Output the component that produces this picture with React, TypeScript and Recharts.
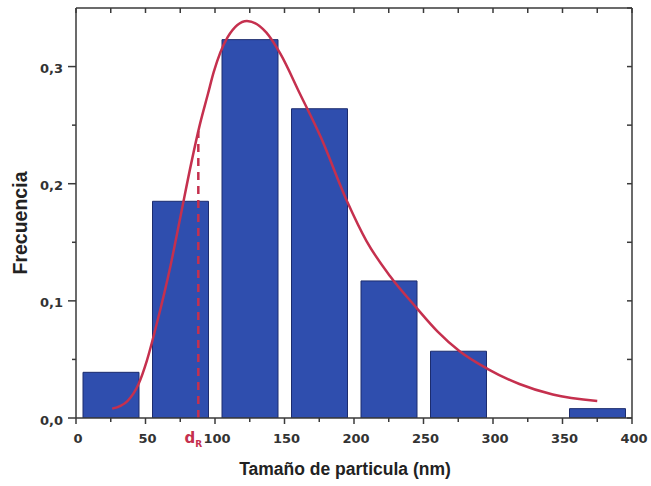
import React from "react";
import {
  ComposedChart,
  Bar,
  Line,
  XAxis,
  YAxis,
  ReferenceLine,
  Label,
} from "recharts";

// histogram bins (nm) and their frequency
const binCenters = [25, 75, 125, 175, 225, 275, 375];
const binFreq = [0.039, 0.185, 0.323, 0.264, 0.117, 0.057, 0.008];

// fitted distribution curve
const fitSize = [26, 37, 45, 51, 58, 68, 75, 83, 89, 95, 99, 109, 123, 137, 147, 161, 176, 195, 209, 226, 245, 260, 276, 296, 319, 343, 375];
const fitFreq = [0.008, 0.0145, 0.029, 0.049, 0.08, 0.13, 0.171, 0.218, 0.25, 0.277, 0.295, 0.325, 0.339, 0.329, 0.311, 0.277, 0.24, 0.185, 0.151, 0.121, 0.094, 0.074, 0.057, 0.042, 0.029, 0.02, 0.0145];

// d_R marker
const dR = 88;
const dRTop = 0.245;

const xTicks = [0, 25, 50, 75, 100, 125, 150, 175, 200, 225, 250, 275, 300, 325, 350, 375, 400];
const yTicks = [0, 0.05, 0.1, 0.15, 0.2, 0.25, 0.3, 0.35];

const bars = binCenters.map((x, i) => ({ size: x, freq: binFreq[i] }));
const fit = fitSize.map((x, i) => ({ size: x, fit: fitFreq[i] }));

const AXIS = "#3a3a3a";
const RED = "#c5304e";
const FONT = "'Liberation Sans', Arial, sans-serif";
const TICK_FONT = "'DejaVu Sans', sans-serif";

function LeftTick(props: any) {
  const { x, y, payload } = props;
  const v = payload.value;
  const major = Math.round(v * 100) % 10 === 0;
  if (v > 0.34) return null;
  return (
    <g>
      <line x1={x - (major ? 8 : 4)} x2={x} y1={y} y2={y} stroke={AXIS} strokeWidth={1.5} />
      {major && (
        <text x={x - 13} y={y + 2} textAnchor="end" dominantBaseline="central" fontFamily={TICK_FONT} fontWeight="bold" fontSize={13} fill="#333">
          {v.toFixed(1).replace(".", ",")}
        </text>
      )}
    </g>
  );
}

function BottomTick(props: any) {
  const { x, y, payload } = props;
  const v = payload.value;
  if (v === dR) {
    return (
      <text x={x - 5} y={y + 25} textAnchor="middle" fontFamily={TICK_FONT} fontWeight="bold" fontSize={15} fill={RED}>
        d<tspan fontSize={9} dy={4}>R</tspan>
      </text>
    );
  }
  const major = v % 50 === 0;
  return (
    <g>
      <line x1={x} x2={x} y1={y} y2={y + (major ? 6 : 4)} stroke={AXIS} strokeWidth={1.5} />
      {major && (
        <text x={x + 2} y={y + 25} textAnchor="middle" fontFamily={TICK_FONT} fontWeight="bold" fontSize={13} fill="#333">
          {v}
        </text>
      )}
    </g>
  );
}

export default function App() {
  return (
    <div style={{ position: "absolute", left: 0, top: 0, width: 651, height: 486, background: "#fff" }}>
      <ComposedChart
        width={651}
        height={486}
        data={bars}
        margin={{ top: 7, right: 18, bottom: 0, left: 0 }}
      >
        <XAxis
          dataKey="size"
          type="number"
          domain={[0, 400]}
          allowDataOverflow
          ticks={[...xTicks, dR]}
          interval={0}
          tickSize={0}
          tickMargin={0}
          tick={<BottomTick />}
          height={68}
          stroke={AXIS}
          strokeWidth={1.5}
        >
          <Label
            value="Tamaño de particula (nm)"
            position="insideBottom"
            offset={11}
            dx={-9}
            style={{ fontFamily: FONT, fontWeight: "bold", fontSize: 17.5, fill: "#222" }}
          />
        </XAxis>
        <XAxis
          xAxisId="top"
          orientation="top"
          dataKey="size"
          type="number"
          domain={[0, 400]}
          allowDataOverflow
          ticks={xTicks}
          interval={0}
          height={1}
          tickSize={-5}
          tickFormatter={() => ""}
          stroke={AXIS}
          strokeWidth={1.5}
        />
        <YAxis
          type="number"
          domain={[0, 0.35]}
          allowDataOverflow
          ticks={yTicks}
          interval={0}
          width={76}
          tickSize={0}
          tickMargin={0}
          tick={<LeftTick />}
          stroke={AXIS}
          strokeWidth={1.5}
        >
          <Label
            value="Frecuencia"
            angle={-90}
            position="center"
            dx={-18}
            dy={10}
            style={{ fontFamily: FONT, fontWeight: "bold", fontSize: 19.5, fill: "#222", textAnchor: "middle" }}
          />
        </YAxis>
        <YAxis
          yAxisId="right"
          orientation="right"
          type="number"
          domain={[0, 0.35]}
          allowDataOverflow
          ticks={yTicks}
          interval={0}
          width={1}
          tickSize={-5}
          tickFormatter={() => ""}
          stroke={AXIS}
          strokeWidth={1.5}
        />
        <Bar
          dataKey="freq"
          barSize={56}
          fill="#2f4eae"
          stroke="#1c2c6e"
          strokeWidth={1}
          isAnimationActive={false}
        />
        <ReferenceLine
          segment={[{ x: dR, y: 0 }, { x: dR, y: dRTop }]}
          stroke={RED}
          strokeWidth={2.5}
          strokeDasharray="8 6"
        />
        <Line
          data={fit}
          xAxisId="top"
          yAxisId="right"
          dataKey="fit"
          type="monotone"
          stroke={RED}
          strokeWidth={2.5}
          dot={false}
          activeDot={false}
          isAnimationActive={false}
        />
      </ComposedChart>
    </div>
  );
}
